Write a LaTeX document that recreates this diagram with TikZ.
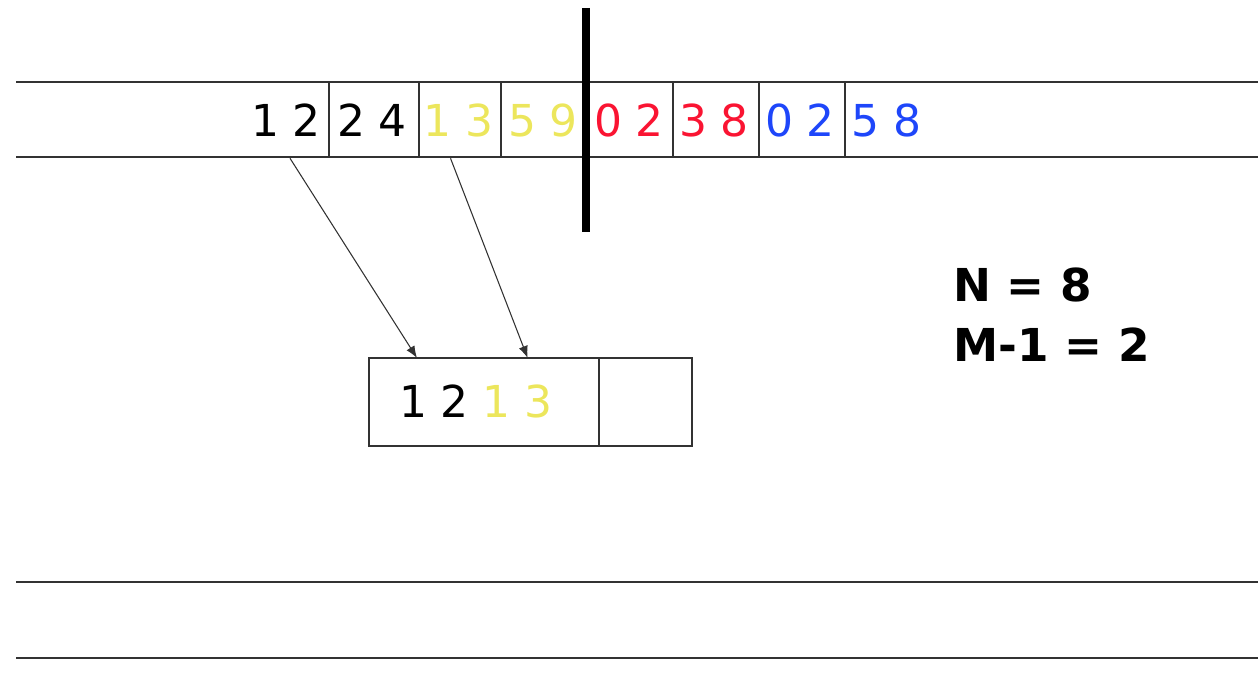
\documentclass[tikz,border=0pt]{standalone}
\usepackage{fontspec}
\setsansfont{DejaVu Sans}
\usetikzlibrary{arrows.meta, positioning}
\definecolor{RunYellow}{RGB}{236,230,92}
\definecolor{RunRed}{RGB}{250,20,50}
\definecolor{RunBlue}{RGB}{30,70,250}
\definecolor{LineGray}{RGB}{50,50,50}

\begin{document}
\begin{tikzpicture}[
    x=0.75pt, y=-0.75pt,
    font=\sffamily,
    rule/.style={draw=LineGray, line width=1pt},
    cell/.style={inner sep=0pt, minimum height=56.25pt, font=\sffamily\fontsize{33}{38}\selectfont},
    slot/.style={draw=LineGray, line width=1pt, inner sep=0pt, outer sep=0pt, minimum height=66pt},
    link/.style={-{Latex[length=9pt, width=7pt]}, line width=0.8pt, LineGray},
]
\useasboundingbox (0,0) rectangle (1258,684);

% ================= tape: runs on disk =================
\draw[rule] (16,82) -- (1258,82);
\draw[rule] (16,157) -- (1258,157);
\foreach \cx/\txt/\col [count=\i] in {286/{1 2}/black, 372/{2 4}/black,
    458.5/{1 3}/RunYellow, 543/{5 9}/RunYellow, 629/{0 2}/RunRed,
    714/{3 8}/RunRed, 800/{0 2}/RunBlue, 886.5/{5 8}/RunBlue}
    \node[cell, text=\col] (c\i) at (\cx,120.5) {\txt};
\foreach \dx in {329,419,501,673,759,845}
    \draw[rule] (\dx,82) -- (\dx,157);
% split point
\draw[line width=6pt] (586,8) -- (586,232);

% ================= buffer in memory =================
\node[slot, minimum width=172.5pt] (buf) at (484,402) {};
\node[slot, minimum width=69.75pt, right=0pt of buf] (spare) {};
\node[cell, minimum height=0pt] (bufrun) at (476,401) {1 2 \textcolor{RunYellow}{1 3}};

\draw[link] ([xshift=3pt]c1.south) -- ([xshift=36pt]buf.north west);
\draw[link] ([xshift=-6pt]c3.south) -- ([xshift=119pt]buf.north west);

% ================= parameters =================
\node[anchor=north west, align=left, inner sep=0pt,
      font=\sffamily\bfseries\fontsize{34}{45}\selectfont] (params) at (953,268) {N = 8\\M-1 = 2};

% second tape
\draw[rule] (16,582) -- (1258,582);
\draw[rule] (16,658) -- (1258,658);

\end{tikzpicture}
\end{document}
